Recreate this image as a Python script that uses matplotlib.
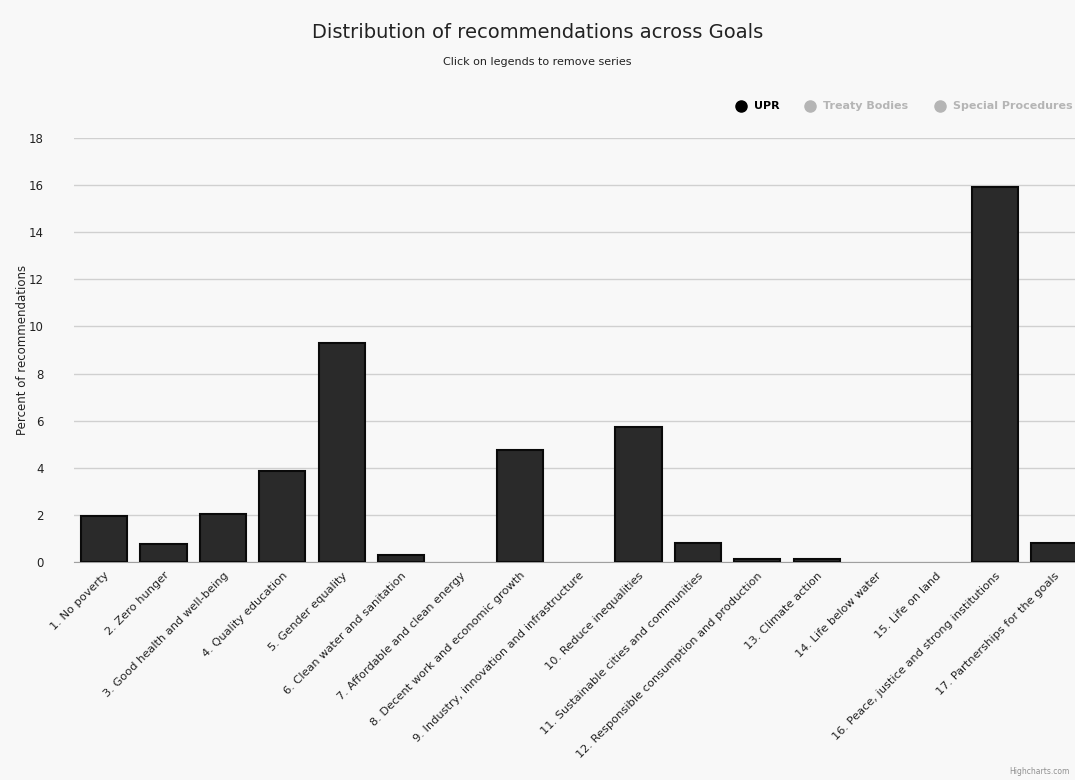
import matplotlib.pyplot as plt
from matplotlib.lines import Line2D

# --- data ---
goals = [
    "1. No poverty", "2. Zero hunger", "3. Good health and well-being",
    "4. Quality education", "5. Gender equality", "6. Clean water and sanitation",
    "7. Affordable and clean energy", "8. Decent work and economic growth",
    "9. Industry, innovation and infrastructure", "10. Reduce inequalities",
    "11. Sustainable cities and communities",
    "12. Responsible consumption and production", "13. Climate action",
    "14. Life below water", "15. Life on land",
    "16. Peace, justice and strong institutions", "17. Partnerships for the goals",
]
upr = [1.95, 0.75, 2.05, 3.85, 9.3, 0.3, 0.0, 4.75, 0.0, 5.75,
       0.8, 0.12, 0.12, 0.0, 0.0, 15.9, 0.82]
yticks = [0, 2, 4, 6, 8, 10, 12, 14, 16, 18]

bg = "#f8f8f8"
fig = plt.figure(figsize=(10.75, 7.8), dpi=100, facecolor=bg)
ax = fig.add_axes([0.0693, 0.2795, 0.9307, 0.5436], facecolor=bg)

x = list(range(len(goals)))
# zero-height bars are not drawn at all in the original
widths = [1.5 if v > 0 else 0 for v in upr]
ax.bar(x, upr, width=0.78, color="#2a2a2a", edgecolor="#0a0a0a",
       linewidth=widths, zorder=3)

ax.set_xlim(-0.5, 16.35)
ax.set_ylim(0, 18)
ax.set_yticks(yticks)
ax.set_yticklabels([str(t) for t in yticks], fontsize=8.5, color="#222222")
ax.yaxis.grid(True, color="#d0d0d0", linewidth=1, zorder=0)
ax.tick_params(axis="y", length=0, pad=22)
ax.tick_params(axis="x", length=0, pad=6)
ax.set_xticks(x)
ax.set_xticklabels(goals, rotation=45, ha="right", rotation_mode="anchor",
                   fontsize=8.2, color="#222222")
for s in ["top", "right", "left"]:
    ax.spines[s].set_visible(False)
ax.spines["bottom"].set_color("#a0a0a0")
ax.set_ylabel("Percent of recommendations", fontsize=8.5, color="#222222")
ax.yaxis.set_label_coords(-45 / 1000, 0.5)

fig.text(0.5, 1 - 33 / 780, "Distribution of recommendations across Goals",
         ha="center", va="center", fontsize=14, color="#222222")
fig.text(0.5, 1 - 62 / 780, "Click on legends to remove series",
         ha="center", va="center", fontsize=8, color="#222222")

# legend (UPR active, others hidden)
ly = 1 - 106 / 780
items = [(741, 754, "UPR", "#000000", "#000000"),
         (810, 823, "Treaty Bodies", "#b5b5b5", "#b5b5b5"),
         (940, 953, "Special Procedures", "#b5b5b5", "#b5b5b5")]
for cx, tx, label, mc, tc in items:
    fig.add_artist(Line2D([cx / 1075], [ly], marker="o", markersize=8,
                          color=mc, transform=fig.transFigure))
    fig.text(tx / 1075, ly, label, ha="left", va="center", fontsize=8,
             fontweight="bold", color=tc)

fig.text(1070 / 1075, 1 - 772 / 780, "Highcharts.com", ha="right", va="center",
         fontsize=5.5, color="#909090")

fig.savefig("out.png", dpi=100, facecolor=bg)
